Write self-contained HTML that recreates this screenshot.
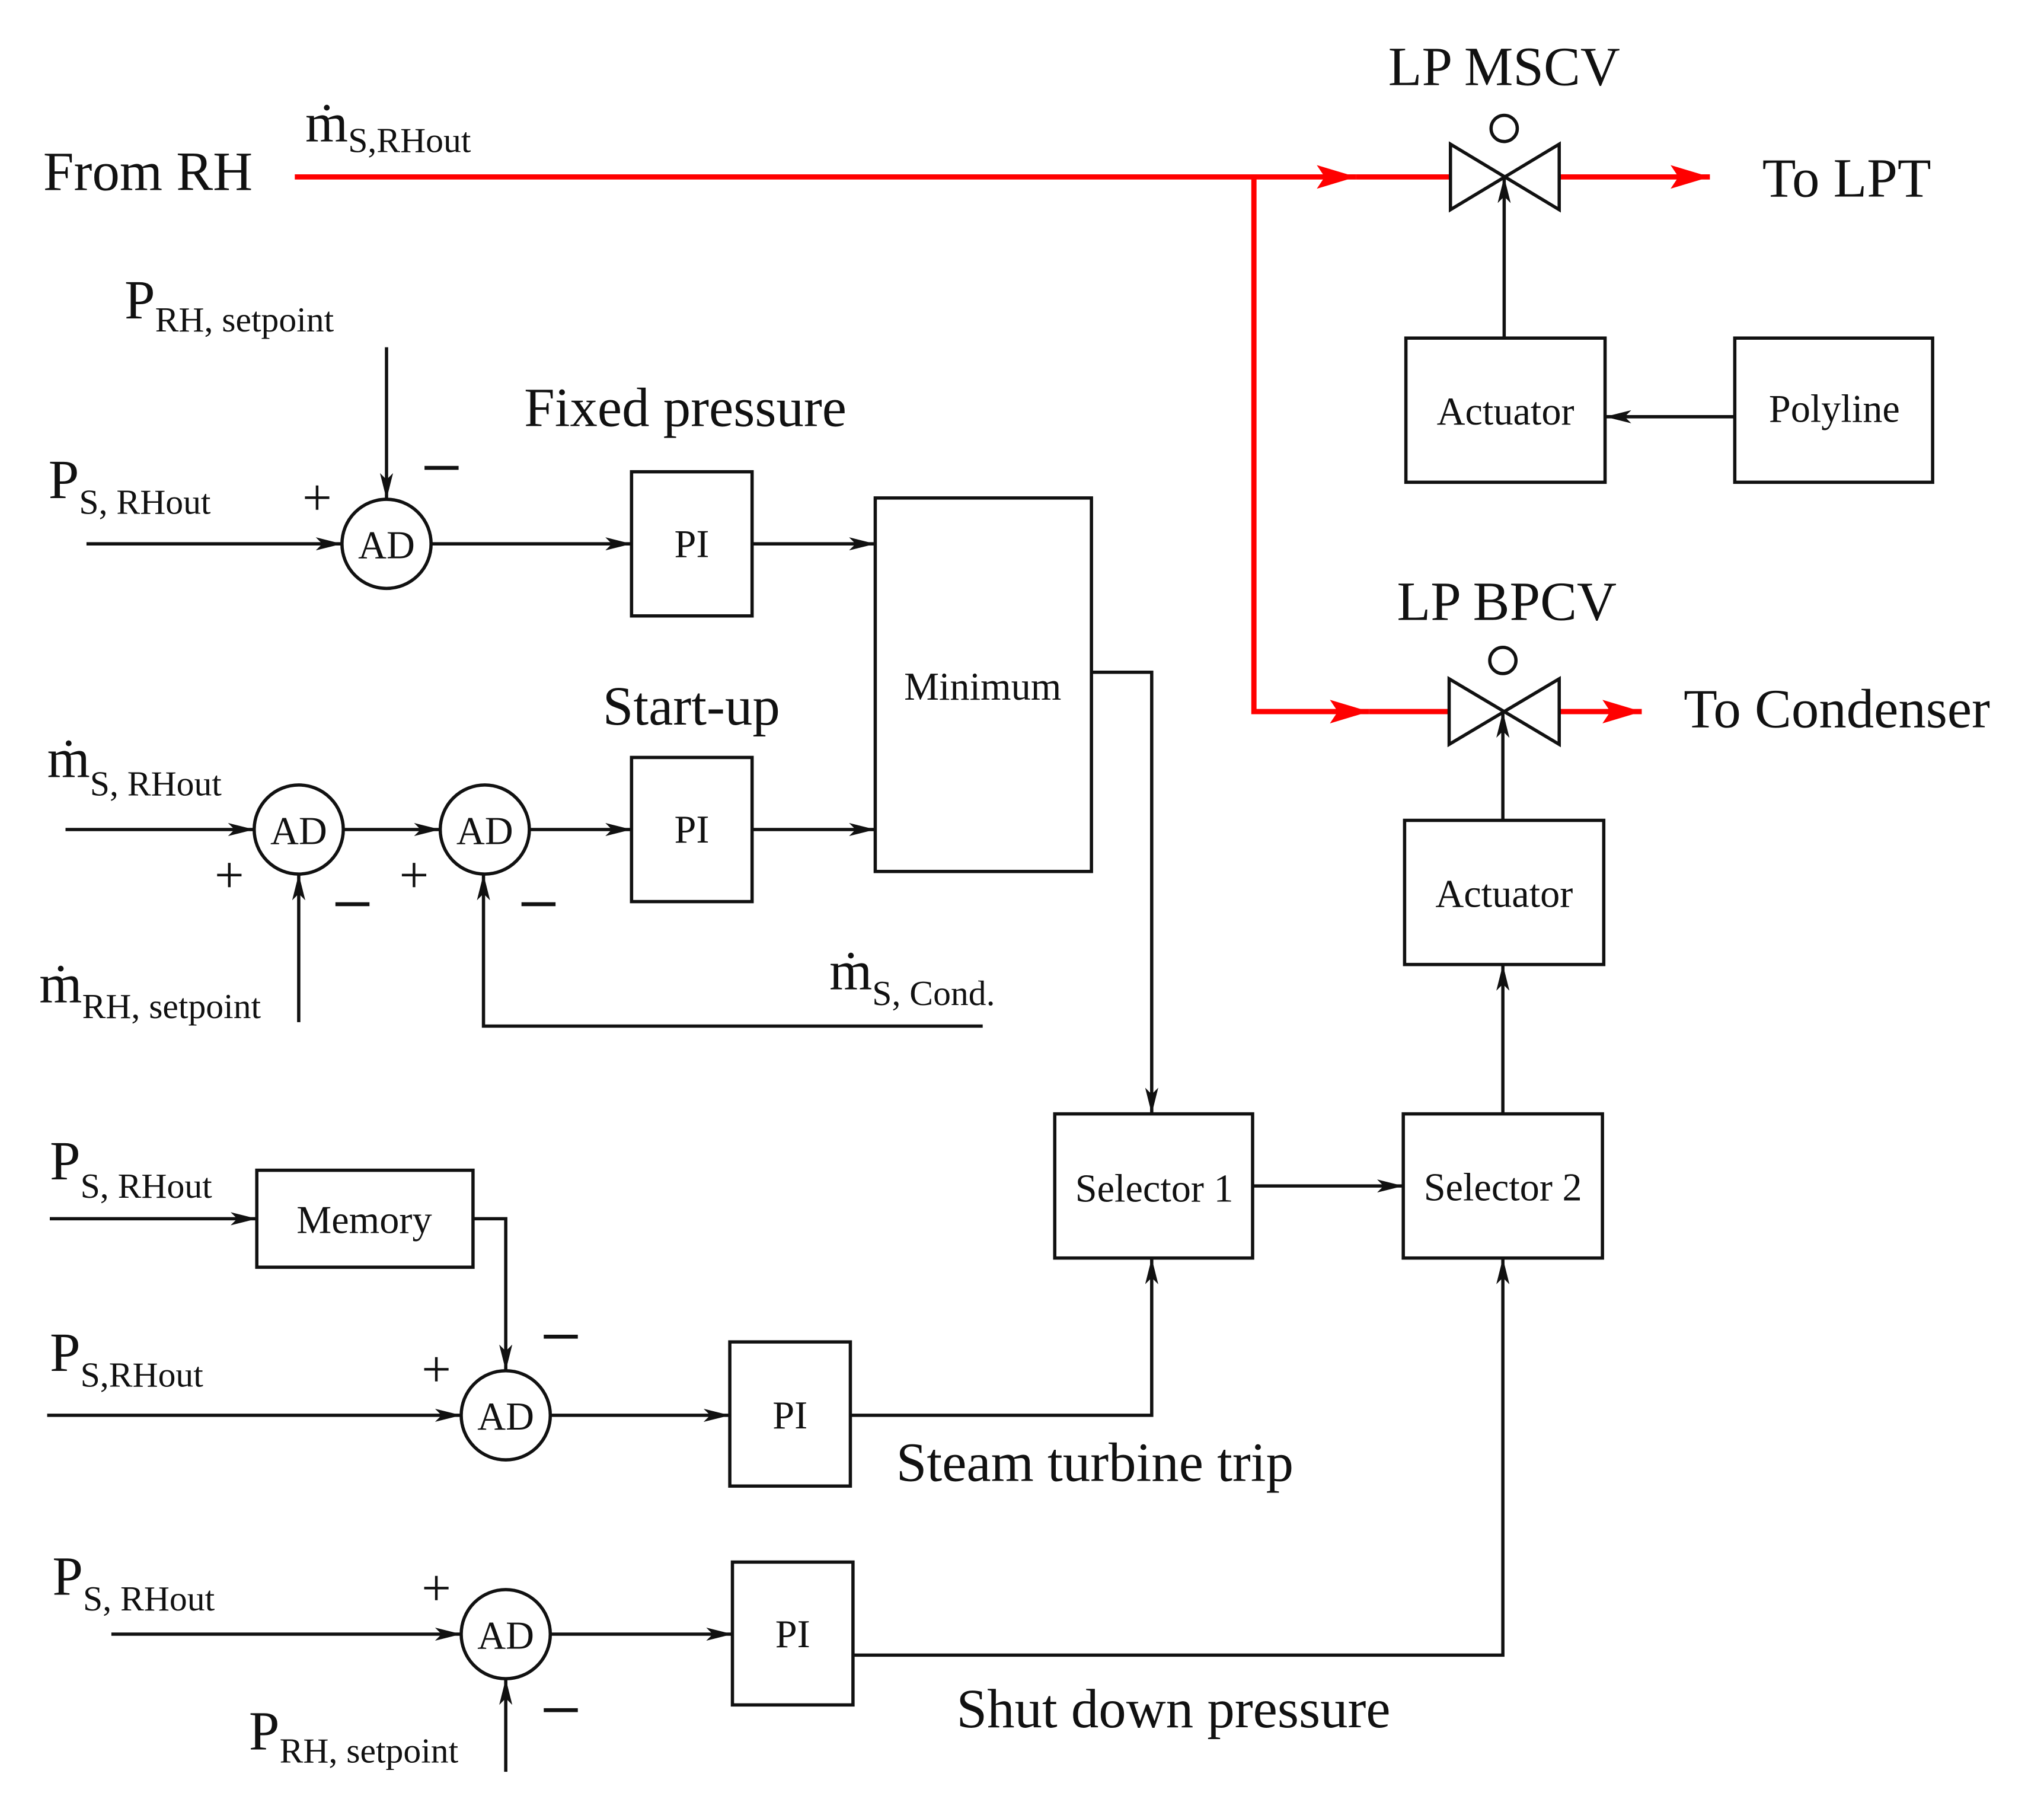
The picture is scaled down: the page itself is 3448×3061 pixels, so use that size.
<!DOCTYPE html>
<html><head><meta charset="utf-8"><style>
html,body{margin:0;padding:0;background:#fff}
svg{display:block}
text{font-family:"Liberation Serif","Times New Roman",Times,"DejaVu Serif",serif;fill:#111}
</style></head><body>
<svg width="3448" height="3061" viewBox="0 0 1560 1385" preserveAspectRatio="none" xmlns="http://www.w3.org/2000/svg" font-family="Liberation Serif, Times New Roman, Times, DejaVu Serif, serif">
<defs>
<marker id="a" viewBox="0 0 20 10" refX="20" refY="5" markerWidth="20" markerHeight="10" markerUnits="userSpaceOnUse" orient="auto"><path d="M0,0 L20,5 L0,10 L5,5 Z" fill="#111"/></marker>
<marker id="r" viewBox="0 0 30 18" refX="30" refY="9" markerWidth="30" markerHeight="18" markerUnits="userSpaceOnUse" orient="auto"><path d="M0,0 L30,9 L0,18 L6,9 Z" fill="#f00"/></marker>
</defs>
<g fill="none" stroke="#f00" stroke-width="4">
<path d="M225,135 H1035" marker-end="url(#r)"/>
<path d="M1035,135 H1107"/>
<path d="M1190,135 H1305" marker-end="url(#r)"/>
<path d="M957,135 V543 H1045" marker-end="url(#r)"/>
<path d="M1045,543 H1106"/>
<path d="M1190,543 H1253" marker-end="url(#r)"/>
</g>
<g fill="none" stroke="#111" stroke-width="2.5">
<path d="M1107,110 L1190,160 L1190,110 L1107,160 Z"/>
<circle cx="1148" cy="98" r="10"/>
<path d="M1106,518 L1190,568 L1190,518 L1106,568 Z"/>
<circle cx="1147" cy="504" r="10"/>
<rect x="1073" y="258" width="152" height="110"/>
<rect x="1324" y="258" width="151" height="110"/>
<rect x="1072" y="626" width="152" height="110"/>
<rect x="1071" y="850" width="152" height="110"/>
<rect x="805" y="850" width="151" height="110"/>
<rect x="668" y="380" width="165" height="285"/>
<rect x="482" y="360" width="92" height="110"/>
<rect x="482" y="578" width="92" height="110"/>
<rect x="196" y="893" width="165" height="74"/>
<rect x="557" y="1024" width="92" height="110"/>
<rect x="559" y="1192" width="92" height="109"/>
<circle cx="295" cy="415" r="34"/>
<circle cx="228" cy="633" r="34"/>
<circle cx="370" cy="633" r="34"/>
<circle cx="386" cy="1080" r="34"/>
<circle cx="386" cy="1247" r="34"/>
<path d="M1148,258 V135" marker-end="url(#a)"/>
<path d="M1324,318 H1225" marker-end="url(#a)"/>
<path d="M1147,626 V543" marker-end="url(#a)"/>
<path d="M1147,850 V736" marker-end="url(#a)"/>
<path d="M956,905 H1071" marker-end="url(#a)"/>
<path d="M833,513 H879 V850" marker-end="url(#a)"/>
<path d="M66,415 H261" marker-end="url(#a)"/>
<path d="M295,265 V381" marker-end="url(#a)"/>
<path d="M329,415 H482" marker-end="url(#a)"/>
<path d="M574,415 H668" marker-end="url(#a)"/>
<path d="M50,633 H194" marker-end="url(#a)"/>
<path d="M262,633 H336" marker-end="url(#a)"/>
<path d="M404,633 H482" marker-end="url(#a)"/>
<path d="M574,633 H668" marker-end="url(#a)"/>
<path d="M228,780 V667" marker-end="url(#a)"/>
<path d="M750,783 H369 V667" marker-end="url(#a)"/>
<path d="M38,930 H196" marker-end="url(#a)"/>
<path d="M361,930 H386 V1046" marker-end="url(#a)"/>
<path d="M36,1080 H352" marker-end="url(#a)"/>
<path d="M420,1080 H557" marker-end="url(#a)"/>
<path d="M649,1080 H879 V960" marker-end="url(#a)"/>
<path d="M85,1247 H352" marker-end="url(#a)"/>
<path d="M420,1247 H559" marker-end="url(#a)"/>
<path d="M651,1263 H1147 V960" marker-end="url(#a)"/>
<path d="M386,1352 V1281" marker-end="url(#a)"/>
</g>
<g stroke="#111" stroke-width="3">
<path d="M324,357 H350"/>
<path d="M256,690 H282"/>
<path d="M398,690 H424"/>
<path d="M415,1020 H441"/>
<path d="M415,1305 H441"/>
</g>
<g font-size="42">
<text x="33" y="145">From RH</text>
<text x="1148" y="65" text-anchor="middle">LP MSCV</text>
<text x="1345" y="150">To LPT</text>
<text x="1150" y="473" text-anchor="middle">LP BPCV</text>
<text x="1285" y="555">To Condenser</text>
<text x="400" y="325">Fixed pressure</text>
<text x="460" y="553">Start-up</text>
<text x="684" y="1130">Steam turbine trip</text>
<text x="730" y="1318">Shut down pressure</text>
</g>
<g font-size="30" text-anchor="middle">
<text x="1149" y="324">Actuator</text>
<text x="1400" y="322">Polyline</text>
<text x="1148" y="692">Actuator</text>
<text x="1147" y="916">Selector 2</text>
<text x="881" y="917">Selector 1</text>
<text x="750" y="534">Minimum</text>
<text x="528" y="425">PI</text>
<text x="528" y="643">PI</text>
<text x="278" y="941">Memory</text>
<text x="603" y="1090">PI</text>
<text x="605" y="1257">PI</text>
<text x="295" y="426">AD</text>
<text x="228" y="644">AD</text>
<text x="370" y="644">AD</text>
<text x="386" y="1091">AD</text>
<text x="386" y="1258">AD</text>
</g>
<g font-size="42">
<text x="233" y="108">ṁ<tspan font-size="27" dy="8">S,RHout</tspan></text>
<text x="95" y="243">P<tspan font-size="27" dy="10">RH, setpoint</tspan></text>
<text x="37" y="380">P<tspan font-size="27" dy="12">S, RHout</tspan></text>
<text x="36" y="593">ṁ<tspan font-size="27" dy="14">S, RHout</tspan></text>
<text x="30" y="765">ṁ<tspan font-size="27" dy="12">RH, setpoint</tspan></text>
<text x="633" y="755">ṁ<tspan font-size="27" dy="12">S, Cond.</tspan></text>
<text x="38" y="900">P<tspan font-size="27" dy="14">S, RHout</tspan></text>
<text x="38" y="1046">P<tspan font-size="27" dy="12">S,RHout</tspan></text>
<text x="40" y="1217">P<tspan font-size="27" dy="12">S, RHout</tspan></text>
<text x="190" y="1335">P<tspan font-size="27" dy="10">RH, setpoint</tspan></text>
</g>
<g font-size="40" text-anchor="middle">
<text x="242" y="393">+</text>
<text x="175" y="681">+</text>
<text x="316" y="681">+</text>
<text x="333" y="1058">+</text>
<text x="333" y="1225">+</text>
</g>
</svg>
</body></html>
